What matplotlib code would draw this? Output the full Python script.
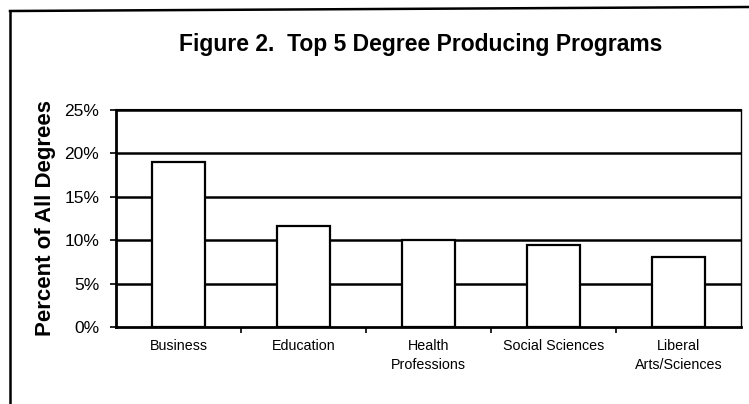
import matplotlib.pyplot as plt
from matplotlib.lines import Line2D

programs = ["Business", "Education", "Health\nProfessions", "Social Sciences", "Liberal\nArts/Sciences"]
percent = [19.0, 11.6, 10.0, 9.5, 8.1]
yticks = [0, 5, 10, 15, 20, 25]

plt.rcParams['font.family'] = ['Liberation Sans', 'DejaVu Sans']

fig = plt.figure(figsize=(7.49, 4.04), dpi=100)
W, H = 749, 404
ax = fig.add_axes([116 / W, 1 - 327 / H, (741 - 116) / W, (327 - 110) / H])

# gridlines behind the bars
for y in yticks[1:]:
    ax.axhline(y, color='black', lw=1.8, zorder=1)

x = list(range(len(programs)))
ax.bar(x, percent, width=0.42, color='white', edgecolor='black', lw=1.6, zorder=2)

ax.set_xlim(-0.5, len(programs) - 0.5)
ax.set_ylim(0, 25)
ax.set_yticks(yticks)
ax.set_yticklabels([f"{v}%" for v in yticks], fontsize=12.5)
ax.set_xticks([i - 0.5 for i in range(1, len(programs))])
ax.set_xticklabels([])
ax.set_xticks(x, minor=True)
ax.set_xticklabels(programs, minor=True, fontsize=10.3, va='top', linespacing=1.4)
ax.tick_params(axis='x', which='minor', length=0, pad=9)
ax.tick_params(axis='x', which='major', length=4, width=1.2, direction='out')
ax.tick_params(axis='y', length=4, width=1.2, direction='out', pad=8)

ax.spines['left'].set_linewidth(2)
ax.spines['bottom'].set_linewidth(2)
ax.spines['top'].set_linewidth(1.5)
ax.spines['right'].set_linewidth(1)

ax.set_ylabel("Percent of All Degrees", fontsize=16, fontweight='bold', labelpad=6)
fig.text(421 / W, 1 - 45 / H, "Figure 2.  Top 5 Degree Producing Programs",
         fontsize=16.5, fontweight='bold', ha='center', va='center')

# outer frame of the scanned figure
fig.add_artist(Line2D([10 / W, 10 / W], [0, 1 - 11 / H], color='black', lw=1.8))
fig.add_artist(Line2D([10 / W, 1], [1 - 11 / H, 1 - 7 / H], color='black', lw=1.8))

fig.savefig("out.png", dpi=100)
